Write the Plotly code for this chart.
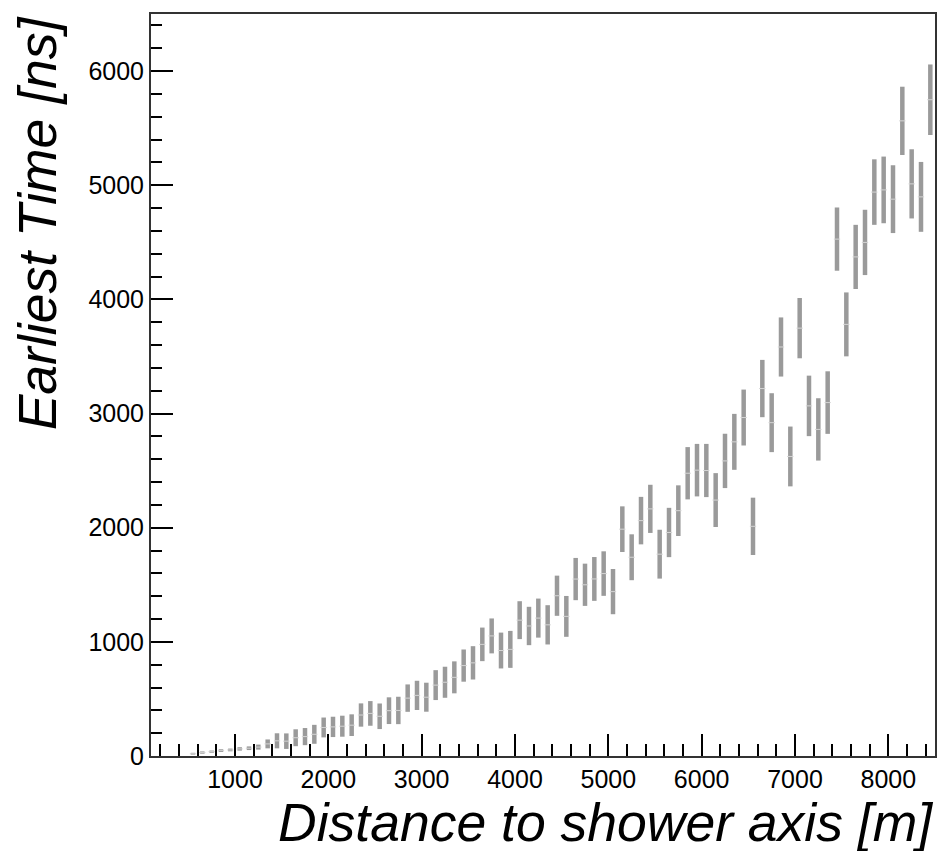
import plotly.graph_objects as go

# Bin centres (m)
distance = [550, 650, 750, 850, 950, 1050, 1150, 1250, 1350, 1450, 1550, 1650, 1750, 1850, 1950,
            2050, 2150, 2250, 2350, 2450, 2550, 2650, 2750, 2850, 2950, 3050, 3150, 3250, 3350,
            3450, 3550, 3650, 3750, 3850, 3950, 4050, 4150, 4250, 4350, 4450, 4550, 4650, 4750,
            4850, 4950, 5050, 5150, 5250, 5350, 5450, 5550, 5650, 5750, 5850, 5950, 6050, 6150,
            6250, 6350, 6450, 6550, 6650, 6750, 6850, 6950, 7050, 7150, 7250, 7350, 7450, 7550,
            7650, 7750, 7850, 7950, 8050, 8150, 8250, 8350, 8450]

# Earliest time (ns)
earliest_time = [20, 30, 38, 47, 53, 62, 68, 78, 106, 133, 130, 160, 170, 190, 250,
                 255, 261, 270, 359, 373, 348, 397, 399, 507, 531, 515, 621, 646, 689,
                 792, 816, 978, 1052, 924, 934, 1190, 1139, 1208, 1149, 1404, 1223, 1550, 1500,
                 1551, 1598, 1440, 1987, 1741, 2062, 2165, 1768, 1958, 2149, 2477, 2504, 2501, 2242,
                 2585, 2752, 2965, 2012, 3219, 2920, 3583, 2624, 3748, 3067, 2861, 3096, 4528, 3781,
                 4372, 4499, 4940, 4959, 4878, 5564, 5012, 4898, 5749]

# Uncertainty (ns)
time_error = [8, 10, 10, 12, 12, 15, 16, 22, 39, 66, 68, 74, 75, 83, 87,
              89, 92, 95, 102, 108, 112, 117, 120, 120, 128, 127, 131, 136, 140,
              141, 146, 147, 153, 157, 162, 166, 168, 171, 172, 176, 179, 185, 185,
              192, 195, 198, 200, 201, 208, 211, 214, 216, 222, 229, 230, 233, 236,
              238, 245, 245, 251, 251, 258, 259, 262, 264, 265, 273, 274, 277, 280,
              281, 286, 287, 292, 297, 299, 303, 306, 309]

x_ticks = [1000, 2000, 3000, 4000, 5000, 6000, 7000, 8000]
y_ticks = [0, 1000, 2000, 3000, 4000, 5000, 6000]

fig = go.Figure()
fig.add_trace(go.Scatter(
    x=distance, y=earliest_time, mode="markers",
    marker=dict(symbol="line-ew", size=4.5, color="#d4d4d4",
                line=dict(color="#d4d4d4", width=1)),
    error_y=dict(type="data", array=time_error, symmetric=True,
                 color="#9a9a9a", thickness=4.5, width=0),
    showlegend=False, hoverinfo="x+y",
))

axis_font = dict(family="Liberation Sans, Arial, Helvetica, sans-serif", size=25, color="black")

fig.update_layout(
    width=941, height=851,
    margin=dict(l=151, r=4, t=14, b=95),
    paper_bgcolor="white", plot_bgcolor="white",
    xaxis=dict(range=[100, 8500], tickvals=x_ticks, ticktext=[str(v) for v in x_ticks],
               ticks="inside", ticklen=22, tickwidth=1.5, tickcolor="black",
               minor=dict(dtick=200, tick0=0, ticks="inside", ticklen=12,
                          tickwidth=1.5, tickcolor="black"),
               showline=True, linecolor="#333333", linewidth=2, mirror=True,
               showgrid=False, zeroline=False, tickfont=axis_font),
    yaxis=dict(range=[0, 6500], tickvals=y_ticks, ticktext=[str(v) for v in y_ticks],
               ticks="inside", ticklen=22, tickwidth=1.5, tickcolor="black",
               minor=dict(dtick=200, tick0=0, ticks="inside", ticklen=11,
                          tickwidth=1.5, tickcolor="black"),
               showline=True, linecolor="#333333", linewidth=2, mirror=True,
               showgrid=False, zeroline=False, tickfont=axis_font),
)

title_font = dict(family="Liberation Sans, Arial, Helvetica, sans-serif", size=53.5, color="black")
fig.add_annotation(text="<i>Distance to shower axis [m]</i>", xref="paper", yref="paper",
                   x=1.0, y=-0.09, xanchor="right", yanchor="middle",
                   showarrow=False, font=title_font)
fig.add_annotation(text="<i>Earliest Time [ns]</i>", xref="paper", yref="paper",
                   x=-0.145, y=1.0, xanchor="center", yanchor="top", textangle=-90,
                   showarrow=False, font=title_font)

fig.write_html("out.html")
